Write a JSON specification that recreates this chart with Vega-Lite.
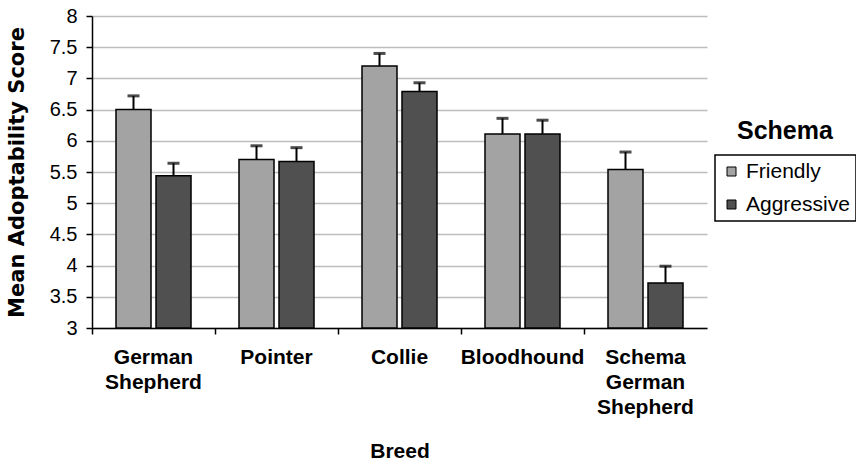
{
  "$schema": "https://vega.github.io/schema/vega-lite/v6.json",
  "width": 615,
  "height": 312,
  "autosize": {"type": "none"},
  "padding": {"left": 92, "top": 16, "right": 149, "bottom": 136},
  "background": "white",
  "title": {
    "text": "Schema",
    "anchor": "start",
    "orient": "top",
    "frame": "group",
    "offset": 0,
    "dx": 645,
    "dy": 158,
    "baseline": "alphabetic",
    "font": "Liberation Sans",
    "fontSize": 25,
    "fontWeight": "bold",
    "color": "black"
  },
  "data": {
    "values": [
      {"breed": "German Shepherd", "schema": "Friendly", "mean": 6.50, "upper": 6.72},
      {"breed": "German Shepherd", "schema": "Aggressive", "mean": 5.44, "upper": 5.64},
      {"breed": "Pointer", "schema": "Friendly", "mean": 5.70, "upper": 5.92},
      {"breed": "Pointer", "schema": "Aggressive", "mean": 5.67, "upper": 5.89},
      {"breed": "Collie", "schema": "Friendly", "mean": 7.20, "upper": 7.40},
      {"breed": "Collie", "schema": "Aggressive", "mean": 6.79, "upper": 6.93},
      {"breed": "Bloodhound", "schema": "Friendly", "mean": 6.11, "upper": 6.36},
      {"breed": "Bloodhound", "schema": "Aggressive", "mean": 6.11, "upper": 6.33},
      {"breed": "Schema German Shepherd", "schema": "Friendly", "mean": 5.54, "upper": 5.82},
      {"breed": "Schema German Shepherd", "schema": "Aggressive", "mean": 3.72, "upper": 3.99}
    ]
  },
  "encoding": {
    "x": {
      "field": "breed",
      "type": "nominal",
      "sort": null,
      "scale": {"paddingInner": 0, "paddingOuter": 0},
      "axis": {
        "title": "Breed",
        "labelAngle": 0,
        "labelExpr": "split(datum.label, ' ')",
        "labelFont": "Liberation Sans",
        "labelFontSize": 21,
        "labelFontWeight": "bold",
        "labelColor": "black",
        "labelLineHeight": 25,
        "labelPadding": 12,
        "labelLimit": 300,
        "bandPosition": 0,
        "tickSize": 6,
        "tickColor": "black",
        "tickWidth": 1.5,
        "domainColor": "black",
        "domainWidth": 1.5,
        "grid": false,
        "titleFont": "Liberation Sans",
        "titleFontSize": 21,
        "titleFontWeight": "bold",
        "titleColor": "black",
        "titlePadding": 23
      }
    },
    "xOffset": {
      "field": "schema",
      "type": "nominal",
      "sort": ["Friendly", "Aggressive"],
      "scale": {"paddingInner": 0.125, "paddingOuter": 0.6}
    }
  },
  "layer": [
    {
      "mark": {"type": "bar", "stroke": "black", "strokeWidth": 1.5},
      "encoding": {
        "y": {
          "field": "mean",
          "type": "quantitative",
          "scale": {"domain": [3, 8], "zero": false, "nice": false},
          "axis": {
            "title": "Mean Adoptability Score",
            "values": [3, 3.5, 4, 4.5, 5, 5.5, 6, 6.5, 7, 7.5, 8],
            "format": "~g",
            "labelOverlap": false,
            "labelFont": "Liberation Sans",
            "labelFontSize": 20,
            "labelColor": "black",
            "labelPadding": 9,
            "tickSize": 6,
            "tickColor": "black",
            "tickWidth": 1.5,
            "domainColor": "black",
            "domainWidth": 1.5,
            "gridColor": "#bdbdbd",
            "gridWidth": 1.5,
            "titleFont": "DejaVu Sans",
            "titleFontSize": 21,
            "titleFontWeight": "bold",
            "titleColor": "black",
            "titlePadding": 22
          }
        },
        "y2": {"datum": 3},
        "color": {
          "field": "schema",
          "type": "nominal",
          "sort": ["Friendly", "Aggressive"],
          "scale": {"domain": ["Friendly", "Aggressive"], "range": ["#a3a3a3", "#505050"]},
          "legend": {
            "title": null,
            "orient": "none",
            "legendX": 623,
            "legendY": 139,
            "padding": 6,
            "strokeColor": "black",
            "symbolType": "square",
            "symbolSize": 81,
            "symbolStrokeColor": "black",
            "symbolStrokeWidth": 1,
            "labelFont": "Liberation Sans",
            "labelFontSize": 21,
            "labelColor": "black",
            "labelOffset": 4,
            "rowPadding": 11
          }
        }
      }
    },
    {
      "mark": {"type": "rule", "color": "black", "strokeWidth": 2},
      "encoding": {
        "y": {
          "field": "mean",
          "type": "quantitative",
          "axis": {
            "title": "Mean Adoptability Score",
            "values": [3, 3.5, 4, 4.5, 5, 5.5, 6, 6.5, 7, 7.5, 8],
            "format": "~g",
            "labelOverlap": false,
            "labelFont": "Liberation Sans",
            "labelFontSize": 20,
            "labelColor": "black",
            "labelPadding": 9,
            "tickSize": 6,
            "tickColor": "black",
            "tickWidth": 1.5,
            "domainColor": "black",
            "domainWidth": 1.5,
            "gridColor": "#bdbdbd",
            "gridWidth": 1.5,
            "titleFont": "DejaVu Sans",
            "titleFontSize": 21,
            "titleFontWeight": "bold",
            "titleColor": "black",
            "titlePadding": 22
          }
        },
        "y2": {"field": "upper"}
      }
    },
    {
      "mark": {"type": "tick", "color": "black", "thickness": 3, "size": 12, "orient": "horizontal"},
      "encoding": {
        "y": {
          "field": "upper",
          "type": "quantitative",
          "axis": {
            "title": "Mean Adoptability Score",
            "values": [3, 3.5, 4, 4.5, 5, 5.5, 6, 6.5, 7, 7.5, 8],
            "format": "~g",
            "labelOverlap": false,
            "labelFont": "Liberation Sans",
            "labelFontSize": 20,
            "labelColor": "black",
            "labelPadding": 9,
            "tickSize": 6,
            "tickColor": "black",
            "tickWidth": 1.5,
            "domainColor": "black",
            "domainWidth": 1.5,
            "gridColor": "#bdbdbd",
            "gridWidth": 1.5,
            "titleFont": "DejaVu Sans",
            "titleFontSize": 21,
            "titleFontWeight": "bold",
            "titleColor": "black",
            "titlePadding": 22
          }
        }
      }
    }
  ],
  "config": {
    "view": {"stroke": null},
    "legend": {"strokeWidth": 1.5}
  }
}
